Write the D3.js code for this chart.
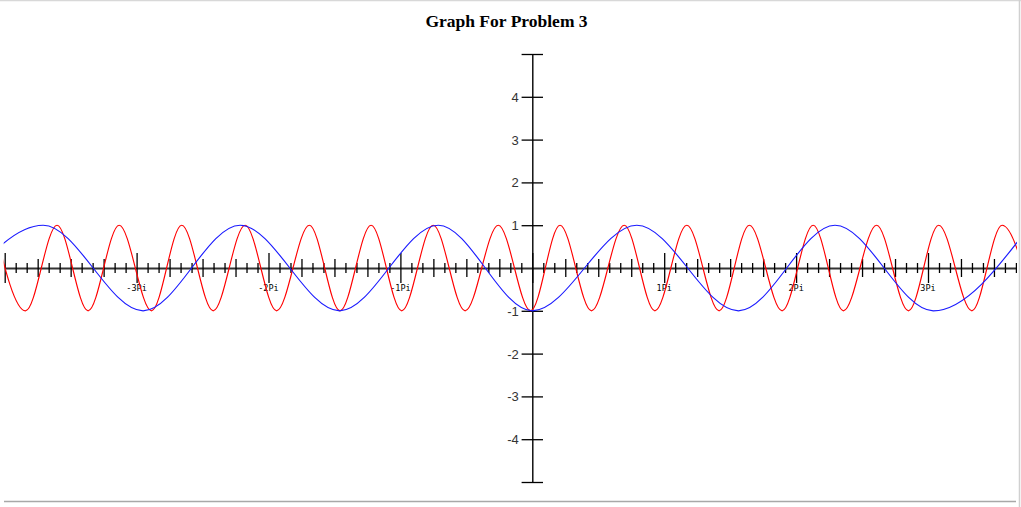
<!DOCTYPE html>
<html>
<head>
<meta charset="utf-8">
<script src="https://cdn.jsdelivr.net/npm/d3@7/dist/d3.min.js"></script>
<style>
  html, body { margin: 0; padding: 0; background: #fff; overflow: hidden; }
  svg { display: block; }
</style>
</head>
<body>
<svg id="chart" width="1021" height="507"></svg>
<script>
// ---- data (x in radians, y in function units) ----
const title = "Graph For Problem 3";

// red curve: positions of its successive extremes and their values
const redX = [-12.82, -12.07, -11.32, -10.58, -9.84, -9.07, -8.35, -7.60, -6.84, -6.09,
              -5.31, -4.58, -3.84, -3.11, -2.36, -1.60, -0.81, -0.04, 0.66, 1.41,
              2.19, 2.92, 3.68, 4.45, 5.17, 5.95, 6.69, 7.41, 8.20, 8.96,
              9.68, 10.47, 11.19, 11.95];
const redY = [1, -1, 1, -1, 1, -1, 1, -1, 1, -1,
              1, -1, 1, -1, 1, -1, 1, -1, 1, -1,
              1, -1, 1, -1, 1, -1, 1, -1, 1, -1,
              1, -1, 1, -1];

// blue curve: positions of its successive extremes and their values
const blueX = [-13.99, -11.65, -9.27, -6.96, -4.59, -2.24, 0.0, 2.49, 4.91, 7.21, 9.55, 11.86];
const blueY = [-1, 1, -1, 1, -1, 1, -1, 1, -1, 1, -1, 1];

// axis ticks
const yTickValues = [-5, -4, -3, -2, -1, 1, 2, 3, 4, 5];
const yTickLabels = ["", "-4", "-3", "-2", "-1", "1", "2", "3", "4", ""];
const xPiMultiples = [-3, -2, -1, 1, 2, 3];
const xPiLabels = ["-3Pi", "-2Pi", "-1Pi", "1Pi", "2Pi", "3Pi"];
const xSubdivisionsPerPi = 12;   // small ticks every pi/12
const xMediumEvery = 3;          // medium ticks every pi/4
const xPiRange = [-4, 4];

// ---- drawing ----
const svg = d3.select("#chart");
const PI = Math.PI;

const x = d3.scaleLinear().domain([xPiRange[0] * PI, xPiRange[1] * PI]).range([4.7, 1059.9]);
const y = d3.scaleLinear().domain([-5, 5]).range([482, 54]);
const x0 = x(0), y0 = y(0);

// page frame lines
svg.append("line").attr("x1", 0).attr("x2", 1021).attr("y1", 0.5).attr("y2", 0.5)
  .attr("stroke", "#d8d8d8").attr("stroke-width", 1.5);
svg.append("line").attr("x1", 1019.5).attr("x2", 1019.5).attr("y1", 0).attr("y2", 507)
  .attr("stroke", "#d0d0d0").attr("stroke-width", 1.5);
svg.append("line").attr("x1", 4).attr("x2", 1016).attr("y1", 501.5).attr("y2", 501.5)
  .attr("stroke", "#a8a8a8").attr("stroke-width", 1.5);

// title
svg.append("text").attr("x", 506.5).attr("y", 27).attr("text-anchor", "middle")
  .attr("font-family", "'Liberation Serif', 'Times New Roman', serif")
  .attr("font-weight", "bold").attr("font-size", "17.5px").attr("fill", "#000")
  .text(title);

svg.append("clipPath").attr("id", "clip").append("rect")
  .attr("x", x(xPiRange[0] * PI) - 1).attr("y", 0).attr("width", 1018 - x(xPiRange[0] * PI)).attr("height", 507);

// x axis
const xTickVals = d3.range(xPiRange[0] * xSubdivisionsPerPi, xPiRange[1] * xSubdivisionsPerPi + 1)
  .map(k => ({ k, v: k * PI / xSubdivisionsPerPi }));
const xAxis = d3.axisBottom(x)
  .tickValues(xTickVals.map(d => d.v))
  .tickSizeOuter(0)
  .tickFormat(() => "");
const gxOuter = svg.append("g").attr("clip-path", "url(#clip)");
const gx = gxOuter.append("g").attr("transform", `translate(0,${y0})`).call(xAxis);
gx.select(".domain").attr("stroke", "#333").attr("stroke-width", 2);
gx.selectAll(".tick line").each(function(d, i) {
  const k = xTickVals[i].k;
  let h = 5;
  if (k % xSubdivisionsPerPi === 0) h = 15;
  else if (k % xMediumEvery === 0) h = 9;
  d3.select(this).attr("y1", -h).attr("y2", h).attr("stroke", "#000").attr("stroke-width", 1.3);
});
gx.selectAll(".tick text").remove();

// pi labels
svg.append("g").selectAll("text").data(xPiMultiples).join("text")
  .attr("x", d => x(d * PI))
  .attr("y", y0 + 23)
  .attr("text-anchor", "middle")
  .attr("font-family", "'DejaVu Sans Mono', monospace")
  .attr("font-size", "8.5px")
  .attr("fill", "#000")
  .text((d, i) => xPiLabels[i]);

// y axis
const yAxis = d3.axisLeft(y)
  .tickValues(yTickValues)
  .tickSizeOuter(0)
  .tickFormat((d, i) => yTickLabels[i]);
const gy = svg.append("g").attr("transform", `translate(${x0},0)`).call(yAxis);
gy.select(".domain").attr("stroke", "#000").attr("stroke-width", 1.4);
gy.selectAll(".tick line").attr("x1", -10.7).attr("x2", 10.7)
  .attr("stroke", "#000").attr("stroke-width", 1.3);
gy.selectAll(".tick text")
  .attr("x", -13.5).attr("dy", "0.34em")
  .attr("font-family", "'Liberation Sans', Arial, sans-serif")
  .attr("font-size", "13px").attr("fill", "#333");

// curves
const line = d3.line().x(d => x(d[0])).y(d => y(d[1])).curve(d3.curveMonotoneX);
const curves = svg.append("g").attr("clip-path", "url(#clip)");
curves.append("path")
  .datum(redX.map((v, i) => [v, redY[i]]))
  .attr("d", line).attr("fill", "none").attr("stroke", "#ff0000").attr("stroke-width", 1.15);
curves.append("path")
  .datum(blueX.map((v, i) => [v, blueY[i]]))
  .attr("d", line).attr("fill", "none").attr("stroke", "#1a1aff").attr("stroke-width", 1.15);
</script>
</body>
</html>
